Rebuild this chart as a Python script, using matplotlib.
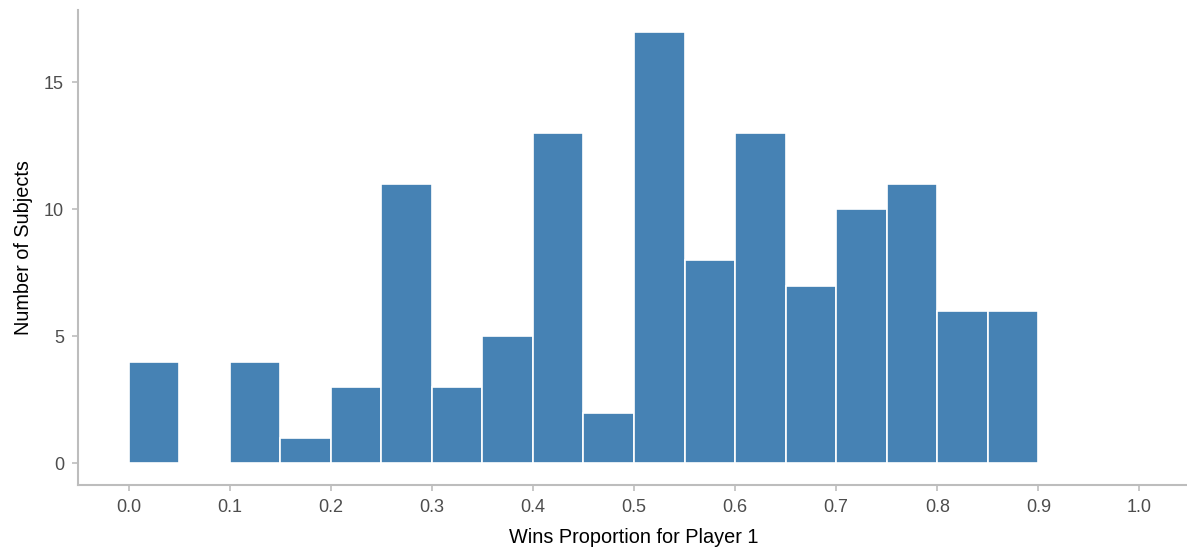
import numpy as np
import matplotlib
matplotlib.use("Agg")
import matplotlib.pyplot as plt

# Histogram of wins proportion (bin width 0.05)
bin_edges = [0.00, 0.05, 0.10, 0.15, 0.20, 0.25, 0.30, 0.35, 0.40, 0.45,
             0.50, 0.55, 0.60, 0.65, 0.70, 0.75, 0.80, 0.85, 0.90]
counts = [4, 0, 4, 1, 3, 11, 3, 5, 13, 2, 17, 8, 13, 7, 10, 11, 6, 6]
x_ticks = [0.0, 0.1, 0.2, 0.3, 0.4, 0.5, 0.6, 0.7, 0.8, 0.9, 1.0]
y_ticks = [0, 5, 10, 15]

plt.rcParams["font.family"] = ["Liberation Sans", "DejaVu Sans"]

fig = plt.figure(figsize=(11.87, 5.53), dpi=100)
ax = fig.add_axes([78 / 1187, 68 / 553, (1190 - 78) / 1187, (543 - 68) / 553])

lefts = np.array(bin_edges[:-1])
widths = np.diff(bin_edges)
ax.bar(lefts, counts, width=widths, align="edge", color="#4682B4",
       edgecolor="white", linewidth=1.2)

ax.set_xlim(-0.05, 1.05)
ax.set_ylim(-0.85, 17.85)
ax.set_xticks(x_ticks)
ax.set_xticklabels([f"{t:.1f}" for t in x_ticks])
ax.set_yticks(y_ticks)

for side in ["top", "right"]:
    ax.spines[side].set_visible(False)
for side in ["left", "bottom"]:
    ax.spines[side].set_color("#bdbdbd")
    ax.spines[side].set_linewidth(1.5)
ax.tick_params(colors="#bdbdbd", length=4, width=1.2, labelsize=13,
               labelcolor="#4d4d4d", pad=6)

ax.set_xlabel("Wins Proportion for Player 1", fontsize=14.3, color="black", labelpad=9)
ax.set_ylabel("Number of Subjects", fontsize=14.3, color="black", labelpad=8)

fig.savefig("out.png", dpi=100)
